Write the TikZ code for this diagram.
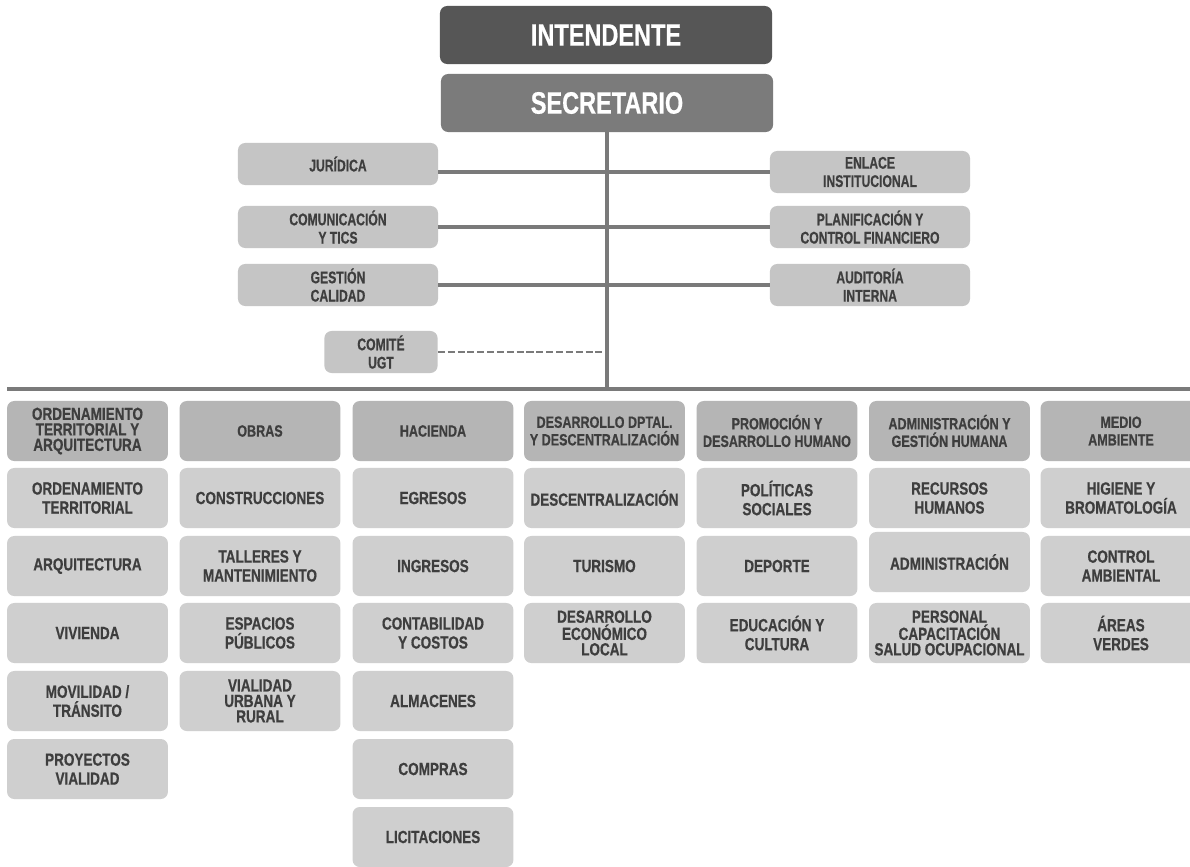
\documentclass[tikz,border=0pt]{standalone}
\usepackage{fontspec}
\newfontfamily\orgfont{Liberation Sans}[FakeStretch=0.72,BoldFeatures={FakeBold=0.6}]
\newfontfamily\gridfont{Liberation Sans}[FakeStretch=0.77,BoldFeatures={FakeBold=0.6}]
\newfontfamily\jefefont{Liberation Sans}[FakeStretch=0.76,BoldFeatures={FakeBold=0.6}]
\definecolor{jefe}{HTML}{565656}
\definecolor{secre}{HTML}{7B7B7B}
\definecolor{lado}{HTML}{C5C5C5}
\definecolor{cabeza}{HTML}{B5B5B5}
\definecolor{hoja}{HTML}{CFCFCF}
\definecolor{linea}{HTML}{7A7A7A}
\definecolor{letra}{HTML}{3E3E3E}
\tikzset{
  caja/.style={rounded corners=0.18cm,inner sep=0pt,align=center,text=letra,
    font=\orgfont\bfseries\fontsize{12}{13}\selectfont},
  mando/.style={caja,minimum width=8.3cm,minimum height=1.45cm,text=white,
    font=\jefefont\bfseries\fontsize{22}{24}\selectfont},
  asesor/.style={caja,fill=lado,minimum width=5cm,minimum height=1.05cm},
  depto/.style={caja,fill=cabeza,minimum width=4.02cm,minimum height=1.5cm,
    font=\gridfont\bfseries\fontsize{11.6}{12.5}\selectfont},
  unidad/.style={caja,fill=hoja,minimum width=4.02cm,minimum height=1.5cm,
    font=\gridfont\bfseries\fontsize{12.5}{13.5}\selectfont},
  apretado/.style={font=\gridfont\bfseries\fontsize{12.5}{11}\selectfont},
  enlace/.style={draw=linea,line width=2.2pt}
}
\begin{document}
\begin{tikzpicture}[x=0.025cm,y=-0.025cm]
  \useasboundingbox[fill=white] (0,0) rectangle (1190,867);

  % cabeza
  \node[mando,fill=jefe] (int) at (606,35) {INTENDENTE};
  \node[mando,fill=secre] (sec) at (607,103) {SECRETARIO};

  % asesores
  \node[asesor] (jur) at (338,164) {JURÍDICA};
  \node[asesor] (enl) at (870,172) {ENLACE\\INSTITUCIONAL};
  \node[asesor] (com) at (338,227) {COMUNICACIÓN\\Y TICS};
  \node[asesor] (pla) at (870,227) {PLANIFICACIÓN Y\\CONTROL FINANCIERO};
  \node[asesor] (ges) at (338,285) {GESTIÓN\\CALIDAD};
  \node[asesor] (aud) at (870,285) {AUDITORÍA\\INTERNA};
  \node[asesor,minimum width=2.83cm] (ugt) at (381,352) {COMITÉ\\UGT};

  \coordinate (busL) at (7,389);
  \coordinate (busR) at (1190,389);

  \draw[enlace] (sec.south) -- (sec.south |- busL);
  \draw[enlace] (busL) -- (busR);
  \draw[enlace] (jur.east |- enl.west) -- (enl.west);
  \draw[enlace] (com.east) -- (pla.west);
  \draw[enlace] (ges.east) -- (aud.west);
  \draw[enlace,line width=1.8pt,dash pattern=on 5pt off 2pt]
    (ugt.east) -- (ugt.east -| sec.south);

  % direcciones
  \node[depto,apretado] (d1) at (87.5,431) {ORDENAMIENTO\\TERRITORIAL Y\\ARQUITECTURA};
  \node[depto] (d2) at (260,431) {OBRAS};
  \node[depto] (d3) at (433,431) {HACIENDA};
  \node[depto] (d4) at (604.5,431) {DESARROLLO DPTAL.\\Y DESCENTRALIZACIÓN};
  \node[depto] (d5) at (777,431) {PROMOCIÓN Y\\DESARROLLO HUMANO};
  \node[depto] (d6) at (949.5,431) {ADMINISTRACIÓN Y\\GESTIÓN HUMANA};
  \node[depto] (d7) at (1121,431) {MEDIO\\AMBIENTE};

  % ordenamiento
  \node[unidad] (u11) at (87.5,498) {ORDENAMIENTO\\TERRITORIAL};
  \node[unidad] (u12) at (87.5,566) {ARQUITECTURA};
  \node[unidad] (u13) at (87.5,633) {VIVIENDA};
  \node[unidad] (u14) at (87.5,701) {MOVILIDAD /\\TRÁNSITO};
  \node[unidad] (u15) at (87.5,769) {PROYECTOS\\VIALIDAD};

  % obras
  \node[unidad] (u21) at (260,498) {CONSTRUCCIONES};
  \node[unidad] (u22) at (260,566) {TALLERES Y\\MANTENIMIENTO};
  \node[unidad] (u23) at (260,633) {ESPACIOS\\PÚBLICOS};
  \node[unidad,apretado] (u24) at (260,701) {VIALIDAD\\URBANA Y\\RURAL};

  % hacienda
  \node[unidad] (u31) at (433,498) {EGRESOS};
  \node[unidad] (u32) at (433,566) {INGRESOS};
  \node[unidad] (u33) at (433,633) {CONTABILIDAD\\Y COSTOS};
  \node[unidad] (u34) at (433,701) {ALMACENES};
  \node[unidad] (u35) at (433,769) {COMPRAS};
  \node[unidad] (u36) at (433,837) {LICITACIONES};

  % desarrollo dptal.
  \node[unidad] (u41) at (604.5,498) {DESCENTRALIZACIÓN};
  \node[unidad] (u42) at (604.5,566) {TURISMO};
  \node[unidad,apretado] (u43) at (604.5,633) {DESARROLLO\\ECONÓMICO\\LOCAL};

  % promocion
  \node[unidad] (u51) at (777,498) {POLÍTICAS\\SOCIALES};
  \node[unidad] (u52) at (777,566) {DEPORTE};
  \node[unidad] (u53) at (777,633) {EDUCACIÓN Y\\CULTURA};

  % administracion
  \node[unidad] (u61) at (949.5,498) {RECURSOS\\HUMANOS};
  \node[unidad] (u62) at (949.5,562) {ADMINISTRACIÓN};
  \node[unidad,apretado] (u63) at (949.5,633) {PERSONAL\\CAPACITACIÓN\\SALUD OCUPACIONAL};

  % medio ambiente
  \node[unidad] (u71) at (1121,498) {HIGIENE Y\\BROMATOLOGÍA};
  \node[unidad] (u72) at (1121,566) {CONTROL\\AMBIENTAL};
  \node[unidad] (u73) at (1121,633) {ÁREAS\\VERDES};
\end{tikzpicture}
\end{document}
